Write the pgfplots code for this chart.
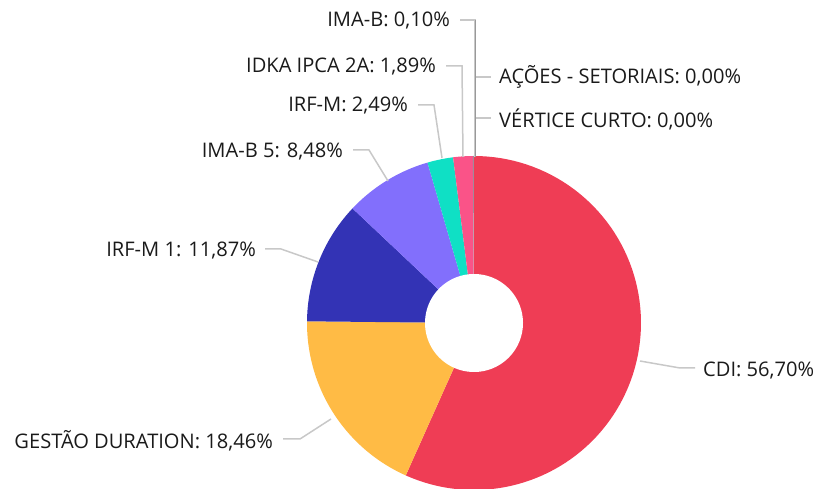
\documentclass[border=0pt]{standalone}
\usepackage{pgfplots}
\pgfplotsset{compat=1.18}
\usepackage{fontspec}
\setmainfont{Open Sans}
\definecolor{cCDI}{HTML}{EF3D55}
\definecolor{cGES}{HTML}{FFBB45}
\definecolor{cIRF1}{HTML}{3333B5}
\definecolor{cIMAB5}{HTML}{826FFC}
\definecolor{cIRFM}{HTML}{0FE0C5}
\definecolor{cIDKA}{HTML}{FA5388}
\definecolor{cIMAB}{HTML}{A08A9A}
\definecolor{lead}{HTML}{C8C8C8}
\definecolor{txt}{HTML}{1A1A1A}
% center (474,-323), outer radius 167, inner radius 49
\newcommand{\slice}[3]{% start percent, end percent, colour
  \pgfmathsetmacro{\aS}{90-3.6*#1}%
  \pgfmathsetmacro{\aE}{90-3.6*#2}%
  \addplot[fill=#3, draw=none, domain=\aE:\aS, samples=90, variable=\t]
    ({474+167*cos(t)},{-323+167*sin(t)}) -- (474,-323) -- cycle;
}
\begin{document}
\begin{tikzpicture}[lbl/.style={font=\fontsize{20.1}{22}\selectfont, text=txt, inner sep=0pt}]
\begin{axis}[hide axis, scale only axis, width=816pt, height=489pt,
  xmin=0, xmax=816, ymin=-489, ymax=0]
% slices: cumulative percentages of CDI 56.70, GESTAO 18.46, IRF-M 1 11.87, IMA-B 5 8.48, IRF-M 2.49, IDKA 1.89, IMA-B 0.10
\slice{0}{56.70}{cCDI}
\slice{56.70}{75.16}{cGES}
\slice{75.16}{87.03}{cIRF1}
\slice{87.03}{95.51}{cIMAB5}
\slice{95.51}{98.00}{cIRFM}
\slice{98.00}{99.89}{cIDKA}
\slice{99.89}{99.99}{cIMAB}
\addplot[fill=white, draw=none, domain=0:360, samples=120, variable=\t]
  ({474+49*cos(t)},{-323+49*sin(t)}) -- cycle;
% leader lines
\addplot[lead, line width=1.5pt, no marks] coordinates {(460,-20) (475,-20) (475,-157)};
\addplot[lead, line width=1.5pt, no marks] coordinates {(446,-66) (462,-66) (463,-157)};
\addplot[lead, line width=1.5pt, no marks] coordinates {(475,-77) (491,-77)};
\addplot[lead, line width=1.5pt, no marks] coordinates {(475,-118) (491,-118)};
\addplot[lead, line width=1.5pt, no marks] coordinates {(418,-105) (434,-105) (442,-158)};
\addplot[lead, line width=1.5pt, no marks] coordinates {(353,-150) (369,-150) (388,-181)};
\addplot[lead, line width=1.5pt, no marks] coordinates {(265,-249) (281,-249) (318,-262)};
\addplot[lead, line width=1.5pt, no marks] coordinates {(283,-439) (300,-439) (331,-419)};
\addplot[lead, line width=1.5pt, no marks] coordinates {(640,-361) (680,-368) (695,-368)};
\addplot[gray!80, line width=1pt, no marks] coordinates {(475,-20) (475,-157)};
% labels
\node[lbl, anchor=east] at (450,-21) {IMA-B: 0,10\%};
\node[lbl, anchor=east] at (436,-67) {IDKA IPCA 2A: 1,89\%};
\node[lbl, anchor=west] at (499,-77) {AÇÕES - SETORIAIS: 0,00\%};
\node[lbl, anchor=west] at (499,-119) {VÉRTICE CURTO: 0,00\%};
\node[lbl, anchor=east] at (408,-106) {IRF-M: 2,49\%};
\node[lbl, anchor=east] at (343,-152) {IMA-B 5: 8,48\%};
\node[lbl, anchor=east] at (256,-251) {IRF-M 1: 11,87\%};
\node[lbl, anchor=east] at (273,-441) {GESTÃO DURATION: 18,46\%};
\node[lbl, anchor=west] at (703,-371) {CDI: 56,70\%};
\end{axis}
\pgfresetboundingbox
\useasboundingbox (current axis.south west) rectangle (current axis.north east);
\end{tikzpicture}
\end{document}
